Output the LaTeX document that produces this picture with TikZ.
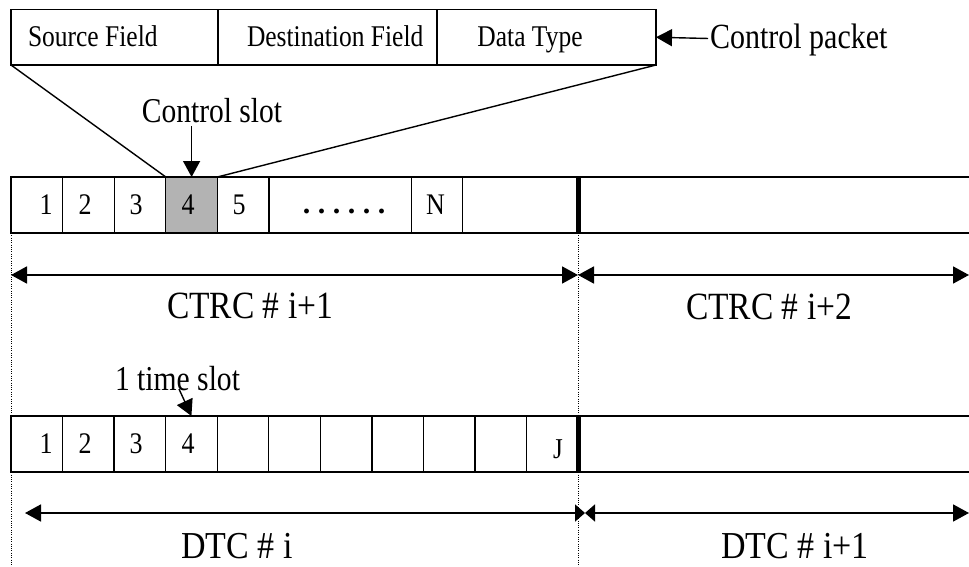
\documentclass[tikz,border=0pt]{standalone}
\usepackage{fontspec}
\setmainfont{Liberation Serif}
\usepackage{graphicx}
\usetikzlibrary{arrows.meta,calc}
% font size in pt and a mild vertical stretch of the lettering
\newcommand{\setfs}[1]{\fontsize{#1}{#1}\selectfont}
\newcommand{\vst}[2][1.18]{\scalebox{1}[#1]{#2}}
\definecolor{slotgray}{RGB}{179,179,179}
\tikzset{
  headL/.tip={Triangle[length=16pt,width=17pt]},
  headS/.tip={Triangle[length=10pt,width=17pt]},
  lbl/.style={inner sep=0pt, outer sep=0pt, anchor=base},
  fieldbox/.style={draw, line width=1.3pt, inner sep=0pt, outer sep=0pt, minimum height=55.5pt},
  cell/.style={draw, line width=1.3pt, inner sep=0pt, outer sep=0pt, minimum height=56pt},
  span/.style={line width=1.8pt},
  pointer/.style={line width=1.4pt},
  guide/.style={line width=0.9pt, dash pattern=on 1pt off 1.3pt},
  barsep/.style={line width=5pt},
}
\begin{document}
\begin{tikzpicture}[x=1pt,y=-1pt]
\useasboundingbox (0,0) rectangle (969,567);

% ---------- control packet fields ----------
\node[fieldbox, minimum width=207pt] (src) at (114.5,37.25) {};
\node[fieldbox, minimum width=219pt] (dst) at (327.5,37.25) {};
\node[fieldbox, minimum width=219pt] (dtype) at (546.5,37.25) {};
\node[lbl, anchor=base west] (tsrc) at (28,47) {\setfs{25.5}\vst{Source Field}};
\node[lbl, anchor=base west] (tdst) at (247,47) {\setfs{25.5}\vst{Destination Field}};
\node[lbl] (tdt) at (530,47) {\setfs{25.5}\vst{Data Type}};
\node[lbl, anchor=base west] (cpk) at (710,49) {\setfs{30}\vst{Control packet}};
\draw[pointer, -headL] ($(cpk.west)+(-2,-2)$) -- (dtype.east);

% ---------- control (CTRC) row ----------
\node[cell, minimum width=51.6pt] (u1) at (36.8,205) {};
\node[cell, minimum width=51.6pt] (u2) at (88.4,205) {};
\node[cell, minimum width=51.6pt] (u3) at (140,205) {};
\node[cell, minimum width=51.6pt, fill=slotgray] (u4) at (191.6,205) {};
\node[cell, minimum width=51.6pt] (u5) at (243.2,205) {};
\node[cell, minimum width=142.4pt] (u6) at (340.2,205) {};
\node[cell, minimum width=51.3pt] (u7) at (437.05,205) {};
\node[cell, minimum width=115.3pt] (u8) at (520.35,205) {};
\node[cell, minimum width=397pt] (u9) at (776.5,205) {};
\draw[barsep] (u9.north west) -- (u9.south west);

\node[lbl] (n1) at (46,214) {\setfs{26}\vst[1.15]{1}};
\node[lbl] (n2) at (85,214) {\setfs{26}\vst[1.15]{2}};
\node[lbl] (n3) at (136,214) {\setfs{26}\vst[1.15]{3}};
\node[lbl] (n4) at (188,214) {\setfs{26}\vst[1.15]{4}};
\node[lbl] (n5) at (239,214) {\setfs{26}\vst[1.15]{5}};
\node[lbl] (ndots) at (344,213) {\setfs{30}\bfseries .\hspace{7.5pt}.\hspace{7.5pt}.\hspace{7.5pt}.\hspace{7.5pt}.\hspace{7.5pt}.};
\node[lbl] (nN) at (435.5,214) {\setfs{26}\vst[1.15]{N}};

% fan-out from the packet to the selected control slot
\draw[pointer] (src.south west) -- (u4.north west);
\draw[pointer] (dtype.south east) -- (u4.north east);
\node[lbl] (cslot) at (212,123) {\setfs{29.5}\vst{Control slot}};
\draw[pointer, -headL] ($(u4.north |- cslot.south)+(0,3)$) -- (u4.north);

% ---------- dotted cycle boundaries ----------
\coordinate (floor) at (0,567);
\draw[guide] (u1.south west) -- (u1.south west |- floor);
\draw[guide] (u9.south west) -- (u9.south west |- floor);

% ---------- CTRC spans ----------
\coordinate (ca) at (11,275);
\coordinate (cb) at (578,275);
\coordinate (cc) at (969,275);
\draw[span, headL-headL] (ca) -- (cb);
\draw[span, headL-headL] (cb) -- (cc);
\node[lbl] (ctrc1) at (250,318) {\setfs{33.5}\vst[1.15]{CTRC \# i+1}};
\node[lbl] (ctrc2) at (769,319) {\setfs{33.5}\vst[1.15]{CTRC \# i+2}};

% ---------- data (DTC) row ----------
\foreach \i in {1,...,11} {
  \node[cell, minimum width=51.55pt] (l\i) at ({11+51.55*(\i-0.5)},444) {};
}
\node[cell, minimum width=397pt] (l12) at (776.5,444) {};
\draw[barsep] (l12.north west) -- (l12.south west);

\node[lbl] (m1) at (46,453) {\setfs{26}\vst[1.15]{1}};
\node[lbl] (m2) at (85,453) {\setfs{26}\vst[1.15]{2}};
\node[lbl] (m3) at (136,453) {\setfs{26}\vst[1.15]{3}};
\node[lbl] (m4) at (188,453) {\setfs{26}\vst[1.15]{4}};
\node[lbl] (mJ) at (558,458) {\setfs{25}\vst[1.15]{J}};

\node[lbl] (tslot) at (177.5,390) {\setfs{29.6}\vst{1 time slot}};
\coordinate (tsfoot) at (179,389);
\draw[pointer, -headL] (tsfoot) -- (l4.north);

% ---------- DTC spans ----------
\coordinate (da) at (25,513);
\coordinate (db) at (585,513);
\coordinate (dc) at (969,513);
\draw[span, headL-headS] (da) -- (db);
\draw[span, headS-headL] (db) -- (dc);
\node[lbl] (dtc1) at (237,558) {\setfs{34}\vst[1.12]{DTC \# i}};
\node[lbl] (dtc2) at (795,558) {\setfs{34}\vst[1.12]{DTC \# i+1}};
\end{tikzpicture}
\end{document}
